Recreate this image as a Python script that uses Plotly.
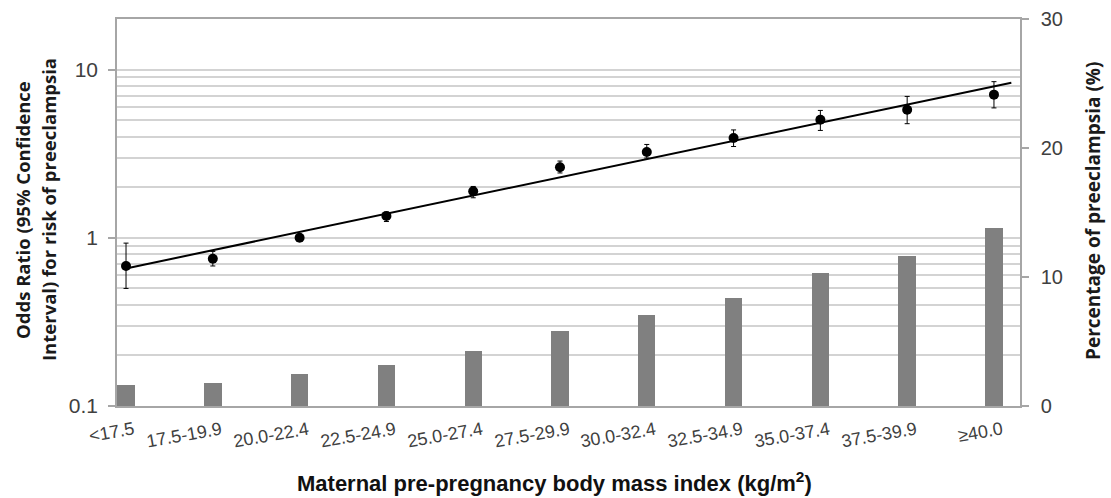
import numpy as np
import plotly.graph_objects as go

categories = ["<17.5", "17.5-19.9", "20.0-22.4", "22.5-24.9", "25.0-27.4", "27.5-29.9",
              "30.0-32.4", "32.5-34.9", "35.0-37.4", "37.5-39.9", "≥40.0"]
odds_ratio = [0.68, 0.75, 1.00, 1.35, 1.89, 2.63, 3.24, 3.92, 5.04, 5.78, 7.10]
ci_lower = [0.50, 0.68, 1.00, 1.25, 1.73, 2.43, 2.98, 3.49, 4.35, 4.77, 5.92]
ci_upper = [0.93, 0.83, 1.00, 1.42, 2.02, 2.86, 3.59, 4.38, 5.72, 6.93, 8.48]
pct_preeclampsia = [1.6, 1.8, 2.45, 3.15, 4.25, 5.85, 7.05, 8.4, 10.3, 11.6, 13.8]

left_ticks = [0.1, 1, 10]
right_ticks = [0, 10, 20, 30]

x = np.arange(len(categories))
or_arr = np.array(odds_ratio)
err_plus = np.array(ci_upper) - or_arr
err_minus = or_arr - np.array(ci_lower)

# exponential trend line (linear fit in log space), extended slightly forward
slope, intercept = np.polyfit(x, np.log10(or_arr), 1)
trend_x = np.array([0, len(categories) - 1 + 0.2])
trend_y = 10 ** (intercept + slope * trend_x)

AX = "#a6a6a6"
GRID = "#d3d3d3"
TXT = "#404040"
FONT = "Liberation Sans, Arial, sans-serif"
TFONT = "Open Sans"

fig = go.Figure()
fig.add_trace(go.Bar(x=x, y=pct_preeclampsia, yaxis="y2", width=0.2,
                     marker=dict(color="#808080", line=dict(width=0)), showlegend=False))
fig.add_trace(go.Scatter(x=trend_x, y=trend_y, mode="lines",
                         line=dict(color="black", width=2), showlegend=False))
fig.add_trace(go.Scatter(x=x, y=odds_ratio, mode="markers",
                         marker=dict(color="black", size=10),
                         error_y=dict(type="data", symmetric=False, array=err_plus,
                                      arrayminus=err_minus, color="black",
                                      thickness=1, width=2.5),
                         showlegend=False))

minor_vals = [v * d for d in (0.1, 1) for v in range(2, 10)]

# category labels (slanted, as in the original)
cat_labels = [dict(text=c, x=int(i), xref="x", y=0, yref="paper", xanchor="right",
                   yanchor="top", xshift=13, yshift=-10, textangle=-10, showarrow=False,
                   font=dict(family=FONT, size=18, color=TXT))
              for i, c in zip(x, categories)]

fig.update_layout(
    width=1111, height=498,
    margin=dict(l=117, r=91, t=19, b=92, autoexpand=False),
    paper_bgcolor="white", plot_bgcolor="white",
    font=dict(family=FONT, color=TXT),
    bargap=0,
    xaxis=dict(range=[-0.104, 10.3], tickvals=list(x), showticklabels=False,
               showline=True, linecolor=AX, linewidth=1.5, mirror=True,
               showgrid=False, zeroline=False, ticks="", automargin=False),
    yaxis=dict(type="log", range=[-1, np.log10(20)], tickvals=left_ticks,
               ticktext=[f"{v:g}" for v in left_ticks],
               tickfont=dict(size=21, color=TXT),
               ticks="outside", ticklen=7, tickcolor=AX, tickwidth=1.5,
               ticklabelstandoff=6, automargin=False,
               showline=True, linecolor=AX, linewidth=1.5,
               showgrid=True, gridcolor=GRID, gridwidth=1.5, zeroline=False,
               minor=dict(tickvals=minor_vals, showgrid=True, gridcolor=GRID,
                          gridwidth=1.5, ticks="")),
    yaxis2=dict(overlaying="y", side="right", range=[0, 30], tickvals=right_ticks,
                tickfont=dict(size=20, color=TXT),
                ticks="outside", ticklen=7, tickcolor=AX, tickwidth=1.5,
                ticklabelstandoff=8, automargin=False,
                showline=True, linecolor=AX, linewidth=1.5,
                showgrid=False, zeroline=False),
    annotations=cat_labels + [
        dict(text="Odds Ratio (95% Confidence", textangle=-90, xref="paper", yref="paper",
             x=(22 - 117) / 903, y=(406 - 210) / 387, xanchor="center", yanchor="middle",
             showarrow=False, font=dict(family=TFONT, size=18.5, color="#1a1a1a", weight="bold")),
        dict(text="Interval) for risk of preeclampsia", textangle=-90, xref="paper", yref="paper",
             x=(48 - 117) / 903, y=(406 - 210) / 387, xanchor="center", yanchor="middle",
             showarrow=False, font=dict(family=TFONT, size=18.5, color="#1a1a1a", weight="bold")),
        dict(text="Percentage of preeclampsia (%)", textangle=-90, xref="paper", yref="paper",
             x=(1093 - 117) / 903, y=(406 - 211) / 387, xanchor="center", yanchor="middle",
             showarrow=False, font=dict(family=TFONT, size=19, color="#1a1a1a", weight="bold")),
        dict(text="Maternal pre-pregnancy body mass index (kg/m<sup>2</sup>)",
             xref="paper", yref="paper",
             x=(554 - 117) / 903, y=(406 - 482) / 387, xanchor="center", yanchor="middle",
             showarrow=False, font=dict(family=FONT, size=22, color="#111111", weight="bold")),
    ],
)

fig.write_html("out.html", config={"displayModeBar": False},
               post_script="document.body.style.margin='0';")
